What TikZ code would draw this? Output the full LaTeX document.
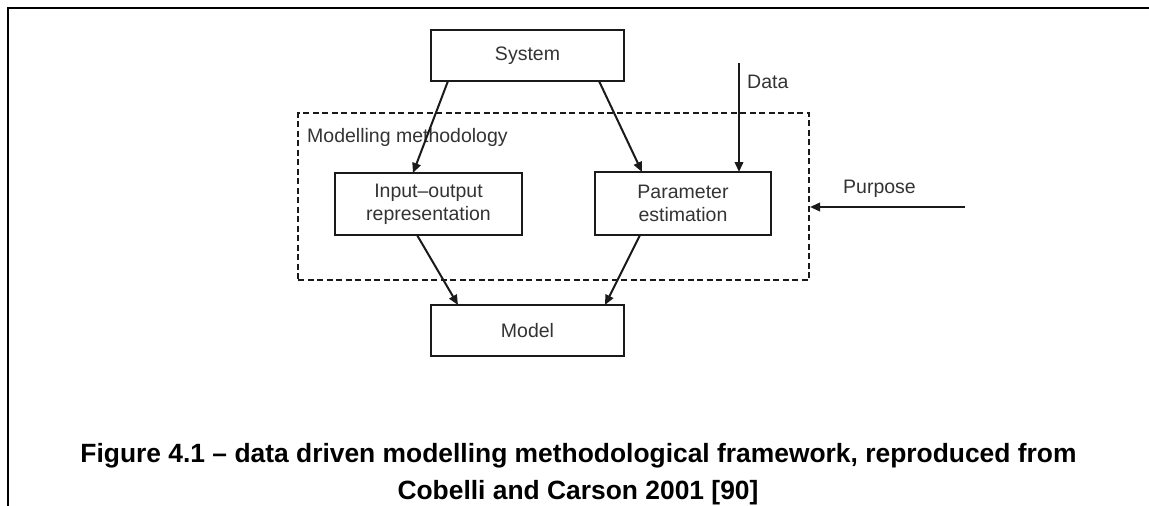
\documentclass[tikz,border=0pt]{standalone}
\usepackage{fontspec}
\setmainfont{Liberation Sans}
\usetikzlibrary{arrows.meta,calc}
\definecolor{txt}{HTML}{333333}
\definecolor{ln}{HTML}{1A1A1A}
\begin{document}
\begin{tikzpicture}[x=1pt,y=-1pt,
  box/.style={draw=ln, line width=2pt, inner sep=0pt, outer sep=0pt, align=center,
    text=txt, font=\fontsize{19.5}{23}\selectfont},
  lbl/.style={text=txt, font=\fontsize{19.5}{23}\selectfont, inner sep=0pt},
  conn/.style={draw=ln, line width=2pt, -{Triangle[length=10pt,width=8.5pt]}},
  framestyle/.style={line width=2.6pt, black},
  captext/.style={font=\fontsize{26.4}{37}\selectfont\bfseries, inner sep=0pt, anchor=base}]
\useasboundingbox (0,0) rectangle (1149,506);
\draw[framestyle] (8,510) -- (8,8) -- (1152,8);
% dashed modelling box
\node[draw=ln, line width=2pt, dash pattern=on 6pt off 3.5pt, minimum width=511pt, minimum height=167pt, inner sep=0pt] (mm) at (553.5,196.5) {};
\node[lbl, anchor=base west] (mmlabel) at (307,142) {Modelling methodology};
% boxes
\node[box, minimum width=193pt, minimum height=51pt] (sys) at (527.5,55.5) {System};
\node[box, minimum width=187pt, minimum height=62pt] (io) at (428.5,204) {Input–output\\representation};
\node[box, minimum width=176pt, minimum height=63pt] (par) at (683,203.5) {Parameter\\estimation};
\node[box, minimum width=193pt, minimum height=51pt] (model) at (527.5,330.5) {Model};
% connectors
\draw[conn] ([xshift=17pt]sys.south west) -- ([xshift=78pt]io.north west);
\draw[conn] ([xshift=-25pt]sys.south east) -- ([xshift=47pt]par.north west);
\draw[conn] ([xshift=82pt]io.south west) -- ([xshift=27pt]model.north west);
\draw[conn] ([xshift=45pt]par.south west) -- ([xshift=-19pt]model.north east);
% data
\coordinate (dataTop) at (739,63);
\draw[conn] (dataTop) -- (dataTop |- par.north);
\node[lbl, anchor=base west] (datalbl) at (747,88) {Data};
% purpose
\coordinate (purpStart) at (965,207);
\draw[conn] (purpStart) -- (purpStart -| mm.east);
\node[lbl, anchor=base west] (purplbl) at (843,193) {Purpose};
% caption
\node[captext] (cap1) at (578.5,462) {Figure 4.1 – data driven modelling methodological framework, reproduced from};
\node[captext] (cap2) at (578,499) {Cobelli and Carson 2001 [90]};
\end{tikzpicture}
\end{document}
